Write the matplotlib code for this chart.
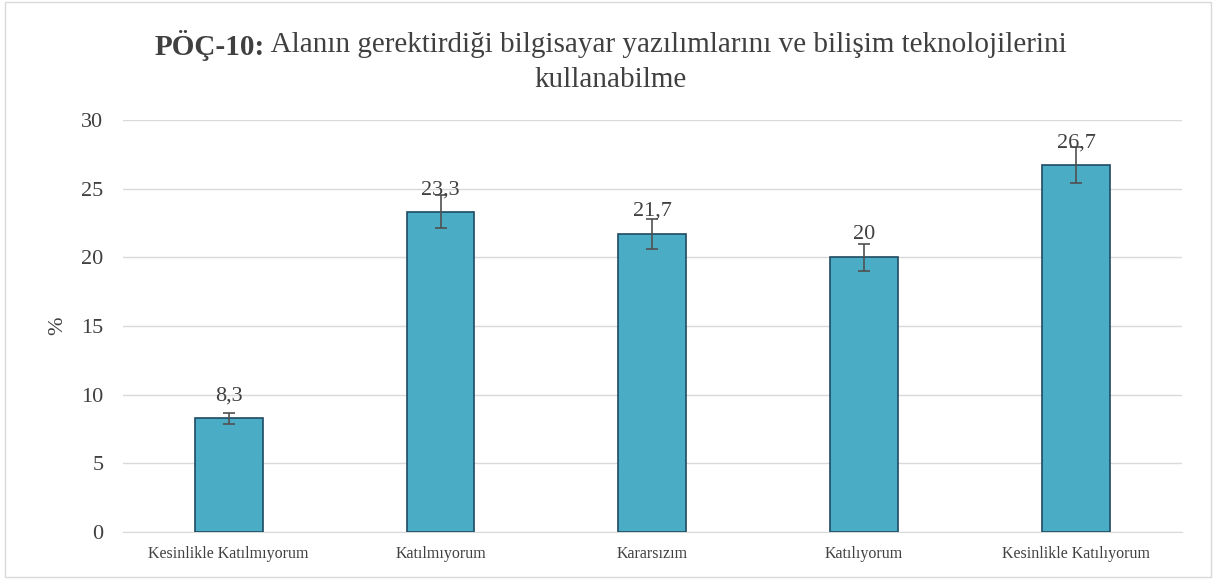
import matplotlib
matplotlib.use("Agg")
import matplotlib.pyplot as plt
from matplotlib.patches import Rectangle
import numpy as np

plt.rcParams['font.family'] = ['Liberation Serif', 'DejaVu Serif']

# data
categories = ['Kesinlikle Katılmıyorum', 'Katılmıyorum', 'Kararsızım', 'Katılıyorum', 'Kesinlikle Katılıyorum']
values = [8.3, 23.3, 21.7, 20.0, 26.7]
errors = [0.4, 1.2, 1.1, 1.0, 1.3]
value_labels = ['8,3', '23,3', '21,7', '20', '26,7']

title_bold = 'PÖÇ-10:'
title_rest = ' Alanın gerektirdiği bilgisayar yazılımlarını ve bilişim teknolojilerini'
title_line2 = 'kullanabilme'

fig = plt.figure(figsize=(12.16, 5.79), dpi=100)
ax = fig.add_axes([0.101, 0.081, 0.871, 0.712])

x = np.arange(len(categories))
ax.bar(x, values, width=0.32, color='#4BACC6', edgecolor='#1f4a63', linewidth=1.2, zorder=3)
ax.errorbar(x, values, yerr=errors, fmt='none', ecolor='#505050', elinewidth=1.2,
            capsize=4, capthick=1.2, zorder=4)

for xi, v, lab in zip(x, values, value_labels):
    ax.text(xi, v + 1.3, lab, ha='center', va='baseline', fontsize=16, color='#404040', zorder=5)

ax.set_xlim(-0.5, len(categories) - 0.5)
ax.set_ylim(0, 30)
ax.set_yticks(range(0, 31, 5))
ax.set_xticks(x)
ax.set_xticklabels(categories, fontsize=11.5, color='#404040')
ax.tick_params(axis='y', labelsize=16, labelcolor='#404040', length=0, pad=14)
ax.tick_params(axis='x', length=0, pad=10)
ax.yaxis.grid(True, color='#d9d9d9', linewidth=1, zorder=0)
for s in ['top', 'right', 'left']:
    ax.spines[s].set_visible(False)
ax.spines['bottom'].set_color('#d9d9d9')
ax.set_ylabel('%', fontsize=16, color='#404040', labelpad=10)

# title: bold prefix + normal text, centred together
r = fig.canvas.get_renderer()
t1 = fig.text(0, 0.922, title_bold, fontsize=21, fontweight='bold', color='#404040', va='center')
t2 = fig.text(0, 0.922, title_rest, fontsize=21, color='#404040', va='center')
w1 = t1.get_window_extent(r).width / fig.bbox.width
w2 = t2.get_window_extent(r).width / fig.bbox.width
x0 = 0.502 - (w1 + w2) / 2
t1.set_x(x0)
t2.set_x(x0 + w1)
fig.text(0.502, 0.862, title_line2, fontsize=21, color='#404040', ha='center', va='center')

# light frame round the chart
fig.patches.append(Rectangle((0.004, 0.004), 0.992, 0.992, transform=fig.transFigure,
                             fill=False, edgecolor='#d9d9d9', linewidth=1))

fig.savefig('out.png', dpi=100)
